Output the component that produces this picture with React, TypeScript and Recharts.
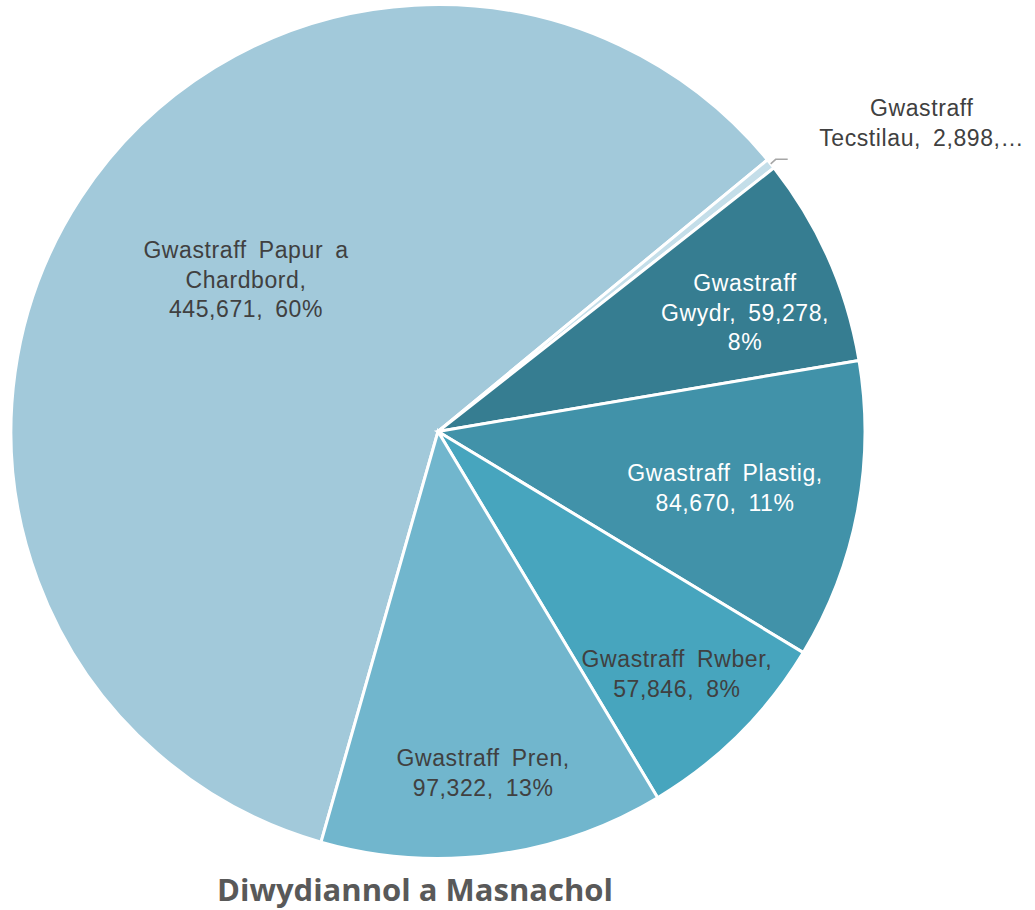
import React from 'react';
import { PieChart, Pie, Cell } from 'recharts';

// Waste streams, industrial & commercial (tonnes)
const names = [
  'Gwastraff Papur a Chardbord',
  'Gwastraff Tecstilau',
  'Gwastraff Gwydr',
  'Gwastraff Plastig',
  'Gwastraff Rwber',
  'Gwastraff Pren',
];
const tonnes = [445671, 2898, 59278, 84670, 57846, 97322];
const colors = ['#A2C9DA', '#C4DEE9', '#367D91', '#4192A9', '#47A5BE', '#71B6CD'];
const labelColors = ['#404040', '#404040', '#ffffff', '#ffffff', '#404040', '#404040'];

// words per label line, where the label sits (fraction of radius) and small angle nudge (deg, clockwise)
const wordsPerLine = [[3, 1, 2], [1, 2], [1, 2, 1], [2, 2], [2, 2], [2, 2]];
const labelRadius = [0.573, 1, 0.771, 0.685, 0.797, 0.807];
const labelNudge = [5.1, 0, 2.7, 0.3, 0.3, 0];

const total = tonnes.reduce((a, b) => a + b, 0);
const fmt = (v: number) => v.toLocaleString('en-US');
const chartData = names.map((name, i) => ({ name, value: tonnes[i] }));

const RAD = Math.PI / 180;

const renderLabel = (props: any) => {
  const { cx, cy, midAngle, outerRadius, index } = props;
  const v = tonnes[index];
  const pct = Math.round((v / total) * 100);
  const words = `${names[index]}, ${fmt(v)}, ${pct}%`.split(' ');
  const lines: string[] = [];
  let k = 0;
  wordsPerLine[index].forEach((n) => {
    lines.push(words.slice(k, k + n).join(' '));
    k += n;
  });
  const lh = 29.5;
  const textStyle = {
    fontFamily: 'Liberation Sans, Arial, sans-serif',
    fontSize: 23,
    fill: labelColors[index],
    wordSpacing: 5,
    letterSpacing: 0.6,
  };

  if (index === 1) {
    // tiny slice: label sits outside with a leader line
    const sx = cx + outerRadius * Math.cos(-midAngle * RAD);
    const sy = cy + outerRadius * Math.sin(-midAngle * RAD);
    const ex = sx + 5;
    const ey = sy - 4.5;
    const tx = ex + 12;
    const short = [lines[0], lines[1].split(' ').slice(0, 2).join(' ') + '…'];
    return (
      <g>
        <polyline points={`${sx},${sy} ${ex},${ey} ${tx},${ey}`} fill="none" stroke="#A6A6A6" strokeWidth={1.5} />
        {short.map((l, i) => (
          <text key={i} x={tx + 134} y={ey - 51 + i * 30} textAnchor="middle" dominantBaseline="central" style={textStyle}>
            {l}
          </text>
        ))}
      </g>
    );
  }

  const a = midAngle - labelNudge[index];
  const r = outerRadius * labelRadius[index];
  const x = cx + r * Math.cos(-a * RAD);
  const y = cy + r * Math.sin(-a * RAD);
  const y0 = y - ((lines.length - 1) * lh) / 2;
  return (
    <g>
      {lines.map((l, i) => (
        <text key={i} x={x} y={y0 + i * lh} textAnchor="middle" dominantBaseline="central" style={textStyle}>
          {l}
        </text>
      ))}
    </g>
  );
};

const App: React.FC = () => {
  return (
    <div style={{ position: 'absolute', left: 0, top: 0, width: 1035, height: 910, background: '#fff' }}>
      <PieChart width={1035} height={910} margin={{ top: 0, right: 0, bottom: 0, left: 0 }}>
        <Pie
          data={chartData}
          dataKey="value"
          nameKey="name"
          cx={438}
          cy={431.5}
          outerRadius={427}
          startAngle={-105.9}
          endAngle={-465.9}
          stroke="#ffffff"
          strokeWidth={3}
          label={renderLabel}
          labelLine={false}
          isAnimationActive={false}
        >
          {chartData.map((d, i) => (
            <Cell key={d.name} fill={colors[i]} />
          ))}
        </Pie>
        <text
          x={415}
          y={889}
          textAnchor="middle"
          dominantBaseline="central"
          style={{ fontFamily: 'Open Sans, sans-serif', fontWeight: 700, fontSize: 31, fill: '#595959' }}
        >
          Diwydiannol a Masnachol
        </text>
      </PieChart>
    </div>
  );
};

export default App;
